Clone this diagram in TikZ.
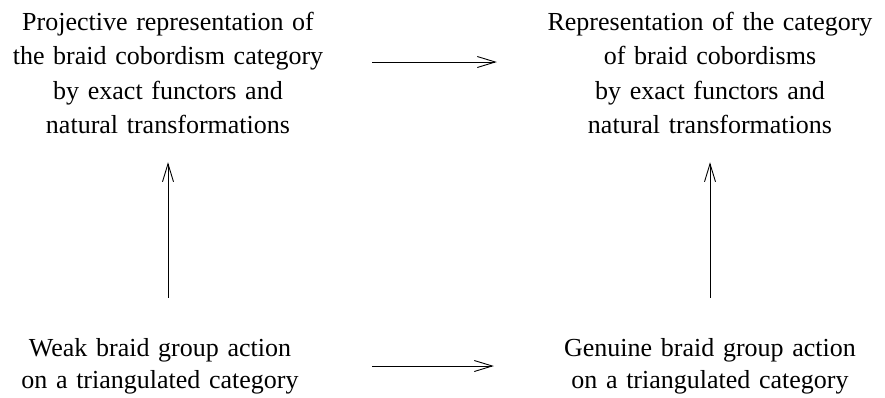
\documentclass[tikz,border=0pt]{standalone}
\usepackage{fontspec}
\setmainfont{Liberation Serif}
\usetikzlibrary{arrows.meta}
\begin{document}
\begin{tikzpicture}[x=1pt,y=-1pt]
    \useasboundingbox (0,0) rectangle (885,397);
    \begin{scope}[every node/.style={inner sep=0pt,text width=330pt,align=center,
        font=\fontsize{26}{34.5}\selectfont}]
      \node (prj) at (168,73) {Projective representation of\\the braid cobordism category\\by exact functors and\\natural transformations};
      \node (rep) at (710,73) {Representation of the category\\of braid cobordisms\\by exact functors and\\natural transformations};
      \node[font=\fontsize{26}{32}\selectfont] (wb) at (160,366) {Weak braid group action\\on a triangulated category};
      \node[font=\fontsize{26}{32}\selectfont] (gb) at (710,366) {Genuine braid group action\\on a triangulated category};
    \end{scope}
    \begin{scope}[every edge/.style={draw=black,line width=0.9pt,
        -{Straight Barb[length=18pt,width=11pt,line width=0.9pt]}}]
      \path ([yshift=11pt]prj.east) edge[shorten <=39pt,shorten >=48pt] ([yshift=11pt]rep.west);
      \path (wb.east |- gb.west) edge[shorten <=47pt,shorten >=51pt] (gb.west);
      \path (wb.north -| prj.south) edge[shorten <=40pt,shorten >=28pt] (prj.south);
      \path (gb.north) edge[shorten <=40pt,shorten >=28pt] (rep.south);
    \end{scope}
  \end{tikzpicture}
\end{document}
